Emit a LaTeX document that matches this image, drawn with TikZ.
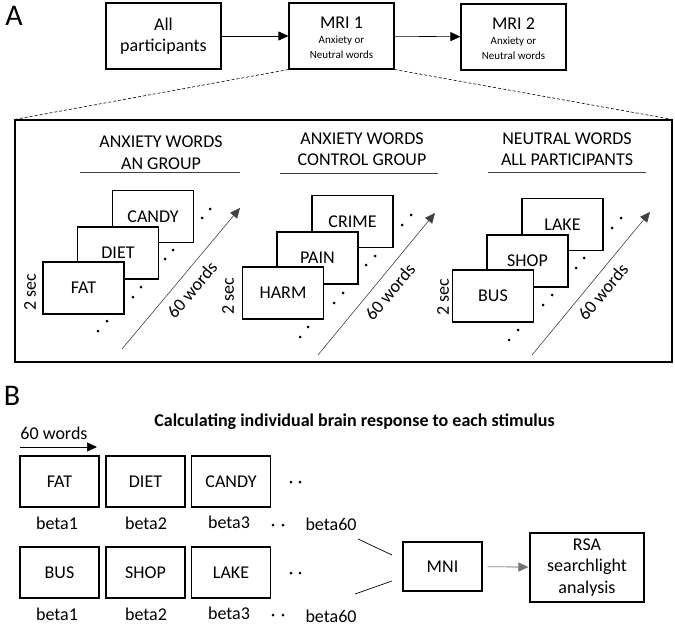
\documentclass[tikz,border=0pt]{standalone}
\usepackage{fontspec}
\setmainfont{Carlito}
\usetikzlibrary{arrows.meta}
\begin{document}
\begin{tikzpicture}[x=1pt,y=-1pt,
  box/.style={draw, line width=1.1pt, fill=white, inner sep=0pt, align=center, font=\fontsize{18}{21.5}\selectfont},
  wbox/.style={box, minimum width=81pt, minimum height=52pt},
  bbox/.style={box, minimum width=79pt, minimum height=51pt},
  txt/.style={inner sep=0pt, align=center, font=\fontsize{18}{21.5}\selectfont},
  small/.style={inner sep=0pt, font=\fontsize{11}{13}\selectfont},
  big/.style={inner sep=0pt, font=\fontsize{30}{32}\selectfont},
  arr/.style={-{Triangle[length=10pt,width=9pt]}, line width=0.6pt},
  thinarr/.style={arr, draw=black!75},
  uline/.style={line width=0.7pt, draw=black!75},
  dot/.style={circle, fill=black, inner sep=0pt, minimum size=3pt},
  dashline/.style={line width=0.6pt, dash pattern=on 3pt off 2pt},
]
\useasboundingbox (0,0) rectangle (675,626);

% ---------- Panel A, top row ----------
\node[big] (labA) at (14,16) {A};
\node[box, minimum width=115pt, minimum height=66pt] (all) at (163.5,36) {All\\participants};
\node[box, minimum width=105pt, minimum height=66pt] (mri1) at (341.5,36) {};
\node[txt] (mri1t) at (341.5,23) {MRI 1};
\node[small] (mri1a) at (341.5,41) {Anxiety or};
\node[small] (mri1b) at (341.5,55) {Neutral words};
\node[box, minimum width=105pt, minimum height=66pt] (mri2) at (513.5,37) {};
\node[txt] (mri2t) at (513.5,24) {MRI 2};
\node[small] (mri2a) at (513.5,42) {Anxiety or};
\node[small] (mri2b) at (513.5,56) {Neutral words};
\draw[arr] (all) -- (mri1);
\draw[arr] (mri1) -- (mri2);

% ---------- Panel A, big frame ----------
\node[draw, line width=1.1pt, minimum width=657pt, minimum height=242pt, inner sep=0pt] (panel) at (343.5,241) {};
\draw[dashline] (mri1.south west) -- (panel.north west);
\draw[dashline] (mri1.south east) -- (panel.north east);

% ---------- Sub-panel 1 ----------
\node[txt] (t1) at (161,152.5) {ANXIETY WORDS\\AN GROUP};
\draw[uline] (80,172.7) -- (240,172.7);
\node[wbox] (candy) at (153,216.5) {CANDY};
\node[wbox] (diet) at (118,253) {DIET};
\node[wbox] (fat) at (83.5,288) {FAT};
\node[txt, rotate=90] (s1) at (30,292) {2 sec};
\coordinate (a1s) at (122,349);
\coordinate (a1e) at (240,208);
\draw[thinarr] (a1s) -- (a1e);
\node[txt, rotate=50] (w1) at (192,290) {60 words};
\foreach \x/\y [count=\i] in {202/218,210/209,165/259,173/250,133/297,141/287,98/331,107/321}
  \node[dot] (d1\i) at (\x,\y) {};

% ---------- Sub-panel 2 ----------
\node[txt] (t2) at (362,149) {ANXIETY WORDS\\CONTROL GROUP};
\draw[uline] (280,173) -- (438,173);
\node[wbox] (crime) at (352.5,221.5) {CRIME};
\node[wbox] (pain) at (317.5,258) {PAIN};
\node[wbox] (harm) at (283,293) {HARM};
\node[txt, rotate=90] (s2) at (228,296) {2 sec};
\coordinate (a2s) at (318,355);
\coordinate (a2e) at (435,213);
\draw[thinarr] (a2s) -- (a2e);
\node[txt, rotate=50] (w2) at (390,292) {60 words};
\foreach \x/\y [count=\i] in {402/225,411/215,366/265,375/256,334/303,343/293,300/337,308/327}
  \node[dot] (d2\i) at (\x,\y) {};

% ---------- Sub-panel 3 ----------
\node[txt] (t3) at (567,149) {NEUTRAL WORDS\\ALL PARTICIPANTS};
\draw[uline] (488,172) -- (646,172);
\node[wbox] (lake) at (562.5,224.5) {LAKE};
\node[wbox] (shop) at (527.5,261) {SHOP};
\node[wbox] (bus) at (493,296) {BUS};
\node[txt, rotate=90] (s3) at (443,297) {2 sec};
\coordinate (a3s) at (532,355);
\coordinate (a3e) at (650,212);
\draw[thinarr] (a3s) -- (a3e);
\node[txt, rotate=50] (w3) at (603,292) {60 words};
\foreach \x/\y [count=\i] in {612/228,621/218,576/268,584/258,543/305,552/295,509/340,518/330}
  \node[dot] (d3\i) at (\x,\y) {};

% ---------- Panel B ----------
\node[big] (labB) at (12,396) {B};
\node[txt, font=\fontsize{18}{21.5}\selectfont\bfseries] (btitle) at (354.5,422) {Calculating individual brain response to each stimulus};
\node[txt] (bw) at (54,433) {60 words};
\coordinate (bas) at (20,447);
\coordinate (bae) at (97,447);
\draw[arr] (bas) -- (bae);

\node[bbox] (bfat) at (59.5,481.5) {FAT};
\node[bbox] (bdiet) at (145.5,481.5) {DIET};
\node[bbox] (bcandy) at (231,481.5) {CANDY};
\node[dot] (r1a) at (291,482) {};
\node[dot] (r1b) at (300,482) {};
\node[txt] (b11) at (57,523) {beta1};
\node[txt] (b12) at (146,523) {beta2};
\node[txt] (b13) at (229,522) {beta3};
\node[dot] (q1a) at (273,525) {};
\node[dot] (q1b) at (283,525) {};
\node[txt] (b160) at (331,524) {beta60};

\node[bbox] (bbus) at (59.5,572.5) {BUS};
\node[bbox] (bshop) at (145.5,572.5) {SHOP};
\node[bbox] (blake) at (231,572.5) {LAKE};
\node[dot] (r2a) at (291,573) {};
\node[dot] (r2b) at (300,573) {};
\node[txt] (b21) at (57,614) {beta1};
\node[txt] (b22) at (146,614) {beta2};
\node[txt] (b23) at (229,613) {beta3};
\node[dot] (q2a) at (273,615) {};
\node[dot] (q2b) at (283,615) {};
\node[txt] (b260) at (331,616) {beta60};

\node[box, minimum width=79pt, minimum height=49pt] (mni) at (442.5,566.5) {MNI};
\node[box, minimum width=114pt, minimum height=69pt] (rsa) at (587,567.5) {RSA\\searchlight\\analysis};
\coordinate (l1a) at (358,539);
\coordinate (l1b) at (392,555);
\coordinate (l2a) at (355,594);
\coordinate (l2b) at (392,581);
\draw[line width=0.7pt] (l1a) -- (l1b);
\draw[line width=0.7pt] (l2a) -- (l2b);
\draw[arr, draw=black!55, fill=black, shorten <=5pt, shorten >=1pt] (mni) -- (rsa);
\end{tikzpicture}
\end{document}
